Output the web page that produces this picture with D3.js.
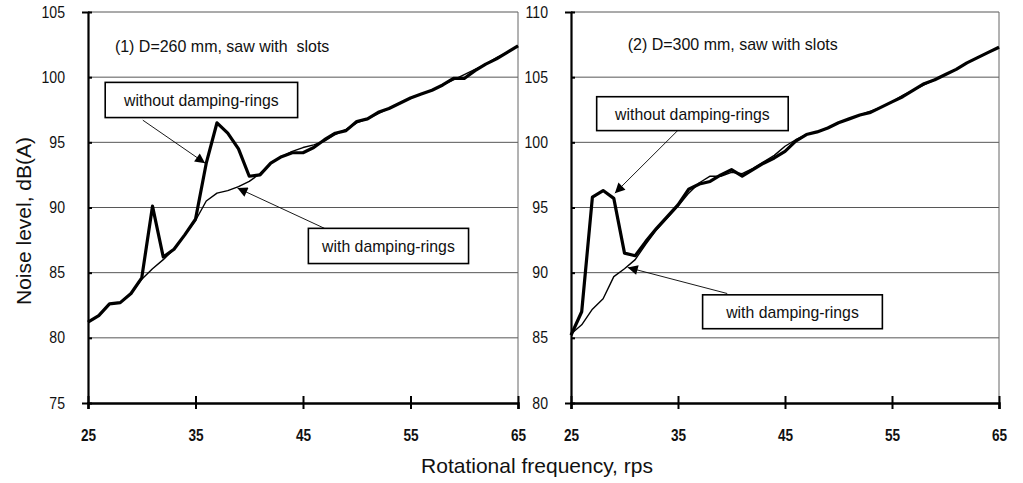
<!doctype html>
<html lang="en">
<head>
<meta charset="utf-8">
<title>noise level vs rotational frequency</title>
<script src="https://d3js.org/d3.v7.min.js"></script>
<style>
body{margin:0;background:#fff;}
svg text{font-family:"Liberation Sans",Arial,sans-serif;fill:#111;}
</style>
</head>
<body>
<div id="chart"></div>
<script>
// rotational frequency, rps
var rps = [25,26,27,28,29,30,31,32,33,34,35,36,37,38,39,40,41,42,43,44,45,
           46,47,48,49,50,51,52,53,54,55,56,57,58,59,60,61,62,63,64,65];

// (1) D=260 mm
var left_without = [81.2,81.7,82.6,82.7,83.4,84.6,90.1,86.2,86.8,87.9,89.1,93.4,96.5,95.7,94.5,92.4,92.5,93.4,93.9,94.2,94.2,
                    94.6,95.2,95.7,95.9,96.6,96.8,97.3,97.6,98.0,98.4,98.7,99.0,99.4,99.9,99.9,100.5,101.0,101.4,101.9,102.4];
var left_with    = [81.2,81.7,82.6,82.7,83.4,84.5,85.3,86.0,86.8,87.9,89.0,90.5,91.1,91.3,91.6,92.0,92.6,93.4,93.9,94.3,94.6,
                    94.8,95.1,95.6,96.0,96.5,96.8,97.2,97.6,98.0,98.4,98.7,99.0,99.4,99.8,100.2,100.6,101.0,101.5,101.9,102.4];

// (2) D=300 mm
var right_without = [85.2,87.0,95.8,96.3,95.7,91.5,91.3,92.4,93.4,94.3,95.2,96.4,96.8,97.0,97.5,97.9,97.4,97.9,98.4,98.8,99.3,
                     100.1,100.6,100.8,101.1,101.5,101.8,102.1,102.3,102.7,103.1,103.5,104.0,104.5,104.8,105.2,105.6,106.1,106.5,106.9,107.3];
var right_with    = [85.3,86.0,87.2,88.0,89.7,90.3,91.0,92.2,93.3,94.2,95.1,96.1,96.9,97.4,97.4,97.7,97.6,98.0,98.5,99.0,99.7,
                     100.2,100.6,100.8,101.1,101.5,101.8,102.1,102.4,102.7,103.1,103.6,104.0,104.4,104.8,105.2,105.6,106.1,106.5,106.9,107.3];

var xTicks = [25,35,45,55,65];
var leftYTicks = [75,80,85,90,95,100,105];
var rightYTicks = [80,85,90,95,100,105,110];

var width = 1023, height = 483;

// squeeze text a bit, the scan uses a narrow typeface
function condense(sel, f){
  sel.each(function(){
    var len = this.getComputedTextLength();
    d3.select(this).attr("textLength", len * f).attr("lengthAdjust", "spacingAndGlyphs");
  });
}

var svg = d3.select("#chart").append("svg")
  .attr("width", width)
  .attr("height", height);

svg.append("rect").attr("width", width).attr("height", height).attr("fill", "#fff");

// arrow head
svg.append("defs").append("marker")
  .attr("id", "arrow")
  .attr("viewBox", "0 0 10 10")
  .attr("refX", 10).attr("refY", 5)
  .attr("markerWidth", 13).attr("markerHeight", 10)
  .attr("markerUnits", "userSpaceOnUse")
  .attr("orient", "auto")
  .append("path")
  .attr("d", "M0,0 L10,5 L0,10 z")
  .attr("fill", "#000");

// annotation positions are in data units (rps, dB)
var panels = [
  {
    x0: 88, x1: 518, yTicks: leftYTicks,
    without: left_without, withR: left_with,
    title: "(1) D=260 mm, saw with  slots", titleAt: [27.5, 101.9],
    boxes: [
      {text: "without damping-rings", x: [26.6, 44.5], y: [99.6, 96.9], from: [30.1, 96.7], to: [35.9, 93.4]},
      {text: "with damping-rings", x: [45.5, 60.4], y: [88.4, 85.7], from: [47.0, 88.4], to: [38.9, 91.5]}
    ]
  },
  {
    x0: 571, x1: 999, yTicks: rightYTicks,
    without: right_without, withR: right_with,
    title: "(2) D=300 mm, saw with slots", titleAt: [30.3, 107.1],
    boxes: [
      {text: "without damping-rings", x: [27.4, 45.3], y: [103.5, 100.9], from: [35.7, 101.5], to: [29.1, 96.1]},
      {text: "with damping-rings", x: [37.3, 54.1], y: [88.3, 85.7], from: [39.6, 88.4], to: [30.3, 90.4]}
    ]
  }
];

panels.forEach(function(p){
  var x = d3.scaleLinear().domain([25, 65]).range([p.x0, p.x1]);
  var y = d3.scaleLinear().domain(d3.extent(p.yTicks)).range([403, 12]);
  var g = svg.append("g");

  // horizontal grid lines
  g.selectAll(".grid").data(p.yTicks.slice(1)).enter().append("line")
    .attr("x1", p.x0).attr("x2", p.x1)
    .attr("y1", function(d){ return y(d); }).attr("y2", function(d){ return y(d); })
    .attr("stroke", "#444").attr("stroke-width", 0.9);

  // right border
  g.append("line")
    .attr("x1", p.x1).attr("x2", p.x1).attr("y1", y(p.yTicks[p.yTicks.length-1])).attr("y2", 403)
    .attr("stroke", "#666").attr("stroke-width", 1);

  // data lines, thick = without rings, thin = with rings
  var line = d3.line()
    .x(function(d, i){ return x(rps[i]); })
    .y(function(d){ return y(d); });

  g.append("path").datum(p.without)
    .attr("d", line).attr("fill", "none")
    .attr("stroke", "#000").attr("stroke-width", 3.2)
    .attr("stroke-linejoin", "round");
  g.append("path").datum(p.withR)
    .attr("d", line).attr("fill", "none")
    .attr("stroke", "#000").attr("stroke-width", 1.4)
    .attr("stroke-linejoin", "round");

  // y axis
  var yAxis = g.append("g")
    .attr("transform", "translate(" + p.x0 + ",0)")
    .call(d3.axisLeft(y).tickValues(p.yTicks).tickSize(6).tickPadding(17));
  yAxis.select(".domain").attr("stroke-width", 2.2).attr("stroke", "#000");
  yAxis.selectAll(".tick line").attr("stroke-width", 2).attr("x2", 4);
  yAxis.selectAll("text").attr("font-size", 16).attr("fill", "#111").call(condense, 0.88);

  // x axis
  var xAxis = g.append("g")
    .attr("transform", "translate(0,403)")
    .call(d3.axisBottom(x).tickValues(xTicks).tickSize(6));
  xAxis.select(".domain").attr("stroke-width", 2.5).attr("stroke", "#000");
  xAxis.selectAll(".tick line").attr("stroke-width", 2).attr("y1", -7);
  xAxis.selectAll("text").attr("font-size", 16).attr("font-weight", "bold")
    .attr("dy", null).attr("y", 38).attr("fill", "#111").call(condense, 0.85);

  // panel title
  g.append("text")
    .attr("x", x(p.titleAt[0])).attr("y", y(p.titleAt[1]))
    .attr("font-size", 17)
    .style("white-space", "pre")
    .text(p.title)
    .call(condense, 0.94);

  // labelled boxes with arrows
  p.boxes.forEach(function(b){
    g.append("line")
      .attr("x1", x(b.from[0])).attr("y1", y(b.from[1]))
      .attr("x2", x(b.to[0])).attr("y2", y(b.to[1]))
      .attr("stroke", "#000").attr("stroke-width", 0.9)
      .attr("marker-end", "url(#arrow)");
    g.append("rect")
      .attr("x", x(b.x[0])).attr("y", y(b.y[0]))
      .attr("width", x(b.x[1]) - x(b.x[0]))
      .attr("height", y(b.y[1]) - y(b.y[0]))
      .attr("fill", "#fff").attr("stroke", "#000").attr("stroke-width", 1.6);
    g.append("text")
      .attr("x", (x(b.x[0]) + x(b.x[1])) / 2)
      .attr("y", (y(b.y[0]) + y(b.y[1])) / 2)
      .attr("dy", "0.36em")
      .attr("text-anchor", "middle")
      .attr("font-size", 17)
      .text(b.text)
      .call(condense, 0.93);
  });
});

// axis titles
svg.append("text")
  .attr("x", 537).attr("y", 473)
  .attr("text-anchor", "middle")
  .attr("font-size", 21)
  .text("Rotational frequency, rps");

svg.append("text")
  .attr("transform", "translate(31,221) rotate(-90)")
  .attr("text-anchor", "middle")
  .attr("font-size", 21)
  .text("Noise level, dB(A)");
</script>
</body>
</html>
